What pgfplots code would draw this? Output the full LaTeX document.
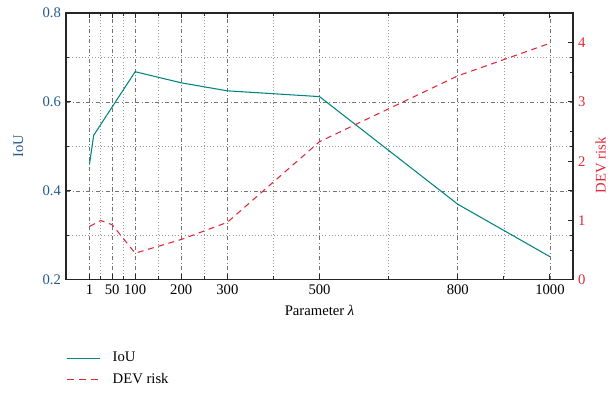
\documentclass[border=0pt]{standalone}
\usepackage{pgfplots}
\pgfplotsset{compat=1.18}
\usepackage{fontspec}
\setmainfont{Liberation Serif}
\definecolor{iou}{RGB}{0,133,128}
\definecolor{dev}{RGB}{222,40,55}
\definecolor{lab}{RGB}{35,90,140}
\begin{document}
\fontsize{11}{13}\selectfont
\begin{tikzpicture}
\useasboundingbox (-49.5pt,-84.75pt) rectangle (410pt,209.75pt);
\begin{axis}[
  scale only axis, width=380pt, height=200pt,
  xmin=-50, xmax=1050, ymin=0.2, ymax=0.8,
  xtick={1,50,100,200,300,500,800,1000},
  minor xtick={25,75,150,250,400,650,900},
  ytick={0.2,0.4,0.6,0.8},
  minor ytick={0.3,0.5,0.7},
  grid=both,
  major grid style={black!55, dash dot, line width=0.5pt},
  minor grid style={black!40, dotted, line width=0.5pt},
  axis line style={line width=1pt, black!85},
  major tick length=4pt, minor tick length=2.5pt,
  every tick/.style={black!85, line width=0.8pt},
  /pgf/number format/assume math mode=true,
  /pgf/number format/1000 sep={},
  yticklabel style={color=lab, /pgf/number format/fixed, /pgf/number format/precision=1, /pgf/number format/fixed zerofill},
  ylabel={IoU}, ylabel style={color=lab, yshift=7pt},
  xlabel={Parameter \textit{λ}},
  tick label style={font=\fontsize{11}{13}\selectfont},
  label style={font=\fontsize{11}{13}\selectfont},
]
\addplot[iou, line width=0.8pt] coordinates {
  (1,0.461) (10,0.525) (100,0.668) (200,0.643) (300,0.625) (500,0.612) (800,0.370) (1000,0.252)
};
\end{axis}
\begin{axis}[
  scale only axis, width=380pt, height=200pt,
  xmin=-50, xmax=1050, ymin=0, ymax=4.5,
  axis y line*=right, axis x line=none,
  ytick={0,1,2,3,4}, minor ytick={0.5,1.5,2.5,3.5},
  axis line style={line width=1pt, black!85},
  major tick length=4pt, minor tick length=2.5pt,
  every tick/.style={black!85, line width=0.8pt},
  /pgf/number format/assume math mode=true,
  yticklabel style={color=dev},
  ylabel={DEV risk}, ylabel style={color=dev, yshift=0pt, xshift=-14pt},
  tick label style={font=\fontsize{11}{13}\selectfont},
  label style={font=\fontsize{11}{13}\selectfont},
  legend style={draw=none, fill=none, at={(axis description cs:0,-0.25)}, anchor=north west, inner xsep=0pt, row sep=3pt, font=\fontsize{11}{13}\selectfont,
    /tikz/every odd column/.append style={column sep=7pt}},
  legend cell align=left,
]
\addlegendimage{legend image code/.code={\draw[iou, line width=0.8pt] (0pt,0pt) -- (25pt,0pt);}}
\addlegendentry{IoU}
\addlegendimage{legend image code/.code={\draw[dev, line width=0.8pt, dash pattern=on 5.5pt off 3.5pt] (0pt,0pt) -- (25pt,0pt);}}
\addlegendentry{DEV risk}
\addplot[dev, line width=0.8pt, dash pattern=on 4.5pt off 3.5pt, forget plot] coordinates {
  (1,0.9) (25,1.0) (50,0.93) (100,0.45) (200,0.68) (300,0.97) (500,2.33) (800,3.44) (1000,3.99)
};
\end{axis}
\end{tikzpicture}
\end{document}
